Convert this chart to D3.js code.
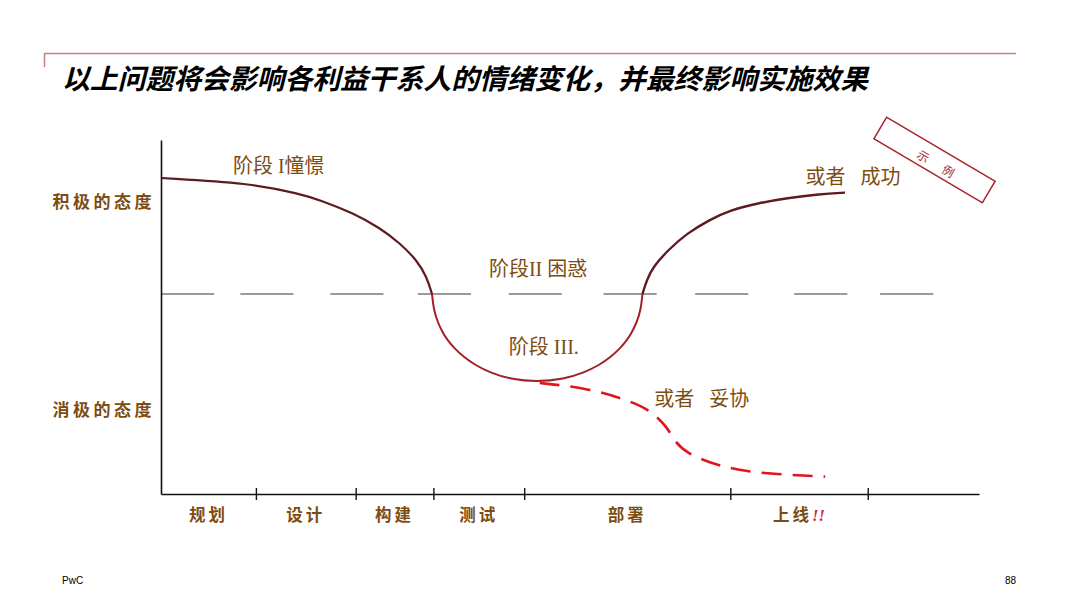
<!DOCTYPE html>
<html>
<head>
<meta charset="UTF-8">
<title>情绪变化曲线</title>
<script src="https://cdn.jsdelivr.net/npm/d3@7/dist/d3.min.js"></script>
<style>
  html, body { margin: 0; padding: 0; background: #fff; }
  #chart { width: 1080px; height: 608px; }
  .cn { font-family: "Liberation Serif", "Noto Sans CJK SC", serif; fill: #7d4c12; }
  .axis text { font-family: "Noto Sans CJK SC", sans-serif; font-weight: bold; fill: #7d4c12; }
</style>
</head>
<body>
<div id="chart"></div>
<script>
// ---- data (x: 项目进度 0-100, y: 态度 0 = 中性) ----
var phases = ['规划', '设计', '构建', '测试', '部署', '上线'];
var phaseBounds = [0, 11.6, 23.8, 33.3, 44.4, 69.6, 86.4];

var attitudeLevels = [4.6, -5.8];
var attitudeLabels = ['积极的态度', '消极的态度'];

// 阶段 I 憧憬
var stage1 = [[0, 5.8], [10.88, 5.55], [17.0, 5.0], [19.44, 4.7], [23.47, 4.05],
              [26.77, 3.3], [29.22, 2.54], [31.26, 1.7], [32.48, 0.87], [33.13, 0]];
// 阶段 II / III 困惑
var stage3 = [[33.13, 0], [33.34, -0.8], [33.86, -1.45], [34.47, -1.95], [35.01, -2.3],
              [35.82, -2.7], [37.0, -3.15], [38.39, -3.55], [40.32, -3.95], [42.63, -4.25],
              [45.97, -4.4], [49.3, -4.25], [51.61, -3.95], [53.61, -3.55], [54.99, -3.15],
              [56.17, -2.7], [56.98, -2.3], [57.52, -1.95], [58.13, -1.45], [58.66, -0.8],
              [58.86, 0]];
// 或者 成功
var success = [[58.86, 0], [59.38, 0.7], [60.18, 1.37], [62.0, 2.2], [64.27, 3.03],
               [67.11, 3.72], [69.56, 4.19], [72.98, 4.54], [76.53, 4.8], [80.56, 4.99],
               [83.62, 5.07]];
// 或者 妥协
var compromise = [[46.3, -4.45], [52.1, -4.7], [57.0, -5.3], [59.8, -5.8], [61.9, -6.65],
                  [62.8, -7.39], [64.3, -7.95], [67.1, -8.45], [70.4, -8.8], [74.5, -9.0],
                  [81.2, -9.13]];

var notes = [
    {text: '阶段 I憧憬', x: 14.4, y: 6.4},
    {text: '阶段II 困惑', x: 46.1, y: 1.25},
    {text: '阶段 III.', x: 46.8, y: -2.63},
    {text: '或者\u00a0\u00a0\u00a0妥协', x: 66.1, y: -5.25},
    {text: '或者\u00a0\u00a0\u00a0成功', x: 84.6, y: 5.85}
];

var neutralDashStarts = [0, 9.7, 20.7, 31.4, 42.5, 54.1, 65.3, 77.4, 87.9];

var title = '以上问题将会影响各利益干系人的情绪变化，并最终影响实施效果';

// ---- svg ----
var W = 1080, H = 608;
var svg = d3.select('#chart').append('svg')
    .attr('width', W)
    .attr('height', H);

// header rule
svg.append('path')
    .attr('d', 'M44.5,67V53.5H1016')
    .attr('fill', 'none')
    .attr('stroke', '#c18383')
    .attr('stroke-width', 1.5);

svg.append('text')
    .attr('x', 62)
    .attr('y', 89)
    .attr('font-family', '"Noto Sans CJK SC", sans-serif')
    .attr('font-size', 27.8)
    .attr('font-weight', 'bold')
    .attr('font-style', 'italic')
    .attr('fill', '#000')
    .text(title);

var xScale = d3.scaleLinear().domain([0, 100]).range([161, 979]);
var yScale = d3.scaleLinear().domain([-10, 7.7]).range([494, 140]);

// neutral dashed line
var dashLen = 6.5;
var g = svg.append('g');
g.selectAll('line.neutral')
    .data(neutralDashStarts)
    .enter()
    .append('line')
    .attr('class', 'neutral')
    .attr('x1', function(d){ return xScale(d); })
    .attr('x2', function(d){ return xScale(d + dashLen); })
    .attr('y1', yScale(0))
    .attr('y2', yScale(0))
    .attr('stroke', '#7a7a7a')
    .attr('stroke-width', 1.6);

// axes
var xAxis = d3.axisBottom(xScale)
    .tickValues(phaseBounds.slice(1))
    .tickFormat('')
    .tickSizeOuter(0)
    .tickSizeInner(6);

var gx = svg.append('g')
    .attr('class', 'x axis')
    .attr('transform', 'translate(0,' + yScale(-10) + ')')
    .call(xAxis);
gx.select('.domain').attr('stroke', '#111').attr('stroke-width', 1.6);
gx.selectAll('.tick line').attr('y1', -6).attr('y2', 6).attr('stroke', '#111').attr('stroke-width', 1.4);

var yAxis = d3.axisLeft(yScale)
    .tickValues(attitudeLevels)
    .tickFormat(function(d, i){ return attitudeLabels[i]; })
    .tickSize(0)
    .tickPadding(10);

var gy = svg.append('g')
    .attr('class', 'y axis')
    .attr('transform', 'translate(' + xScale(0) + ',0)')
    .call(yAxis);
gy.select('.domain').attr('stroke', '#111').attr('stroke-width', 1.6);
gy.selectAll('.tick text')
    .attr('font-size', 17)
    .attr('letter-spacing', 3.5)
    .attr('dx', 4);

// phase labels under the axis
var phaseMid = phases.map(function(p, i){ return (phaseBounds[i] + phaseBounds[i + 1]) / 2; });
var pl = svg.append('g').attr('class', 'axis');
var plText = pl.selectAll('text')
    .data(phases)
    .enter()
    .append('text')
    .attr('x', function(d, i){ return xScale(phaseMid[i]); })
    .attr('y', 521)
    .attr('text-anchor', 'middle')
    .attr('font-size', 16.5)
    .attr('letter-spacing', 3)
    .text(function(d){ return d; });
plText.filter(function(d){ return d === '上线'; })
    .append('tspan')
    .attr('fill', '#d0243a')
    .attr('font-style', 'italic')
    .attr('font-family', '"Liberation Serif", serif')
    .attr('letter-spacing', 0)
    .text('!!');

// curves
var line = d3.line()
    .x(function(d){ return xScale(d[0]); })
    .y(function(d){ return yScale(d[1]); })
    .curve(d3.curveBasis);

g.append('path')
    .datum(compromise)
    .attr('d', line)
    .attr('fill', 'none')
    .attr('stroke', '#e3131b')
    .attr('stroke-width', 2.6)
    .attr('stroke-dasharray', '20,11');

g.append('path')
    .datum(stage3)
    .attr('d', line)
    .attr('fill', 'none')
    .attr('stroke', '#a3202b')
    .attr('stroke-width', 2);

g.append('path')
    .datum(stage1)
    .attr('d', line)
    .attr('fill', 'none')
    .attr('stroke', '#5e1a20')
    .attr('stroke-width', 2.2);

g.append('path')
    .datum(success)
    .attr('d', line)
    .attr('fill', 'none')
    .attr('stroke', '#5e1a20')
    .attr('stroke-width', 2.4);

// stage notes
svg.append('g').selectAll('text')
    .data(notes)
    .enter()
    .append('text')
    .attr('class', 'cn')
    .attr('x', function(d){ return xScale(d.x); })
    .attr('y', function(d){ return yScale(d.y); })
    .attr('dy', '0.35em')
    .attr('text-anchor', 'middle')
    .attr('font-size', 20)
    .text(function(d){ return d.text; });

// "示例" stamp
var stamp = svg.append('g')
    .attr('transform', 'translate(934.5,160) rotate(30.6)');
stamp.append('rect')
    .attr('x', -63)
    .attr('y', -12.5)
    .attr('width', 126)
    .attr('height', 25)
    .attr('fill', 'none')
    .attr('stroke', '#a8242c')
    .attr('stroke-width', 1.5);
stamp.append('text')
    .attr('x', 11.5)
    .attr('y', 3)
    .attr('dy', '0.35em')
    .attr('text-anchor', 'middle')
    .attr('font-family', '"Noto Sans CJK SC", sans-serif')
    .attr('font-size', 12)
    .attr('letter-spacing', 17)
    .attr('fill', '#a8242c')
    .text('示例');

// footer
svg.append('text')
    .attr('x', 62)
    .attr('y', 584)
    .attr('font-family', '"Liberation Sans", Arial, sans-serif')
    .attr('font-size', 10)
    .attr('fill', '#000')
    .text('PwC');
svg.append('text')
    .attr('x', 1016)
    .attr('y', 584)
    .attr('text-anchor', 'end')
    .attr('font-family', '"Liberation Sans", Arial, sans-serif')
    .attr('font-size', 10)
    .attr('fill', '#000')
    .text('88');
</script>
</body>
</html>
